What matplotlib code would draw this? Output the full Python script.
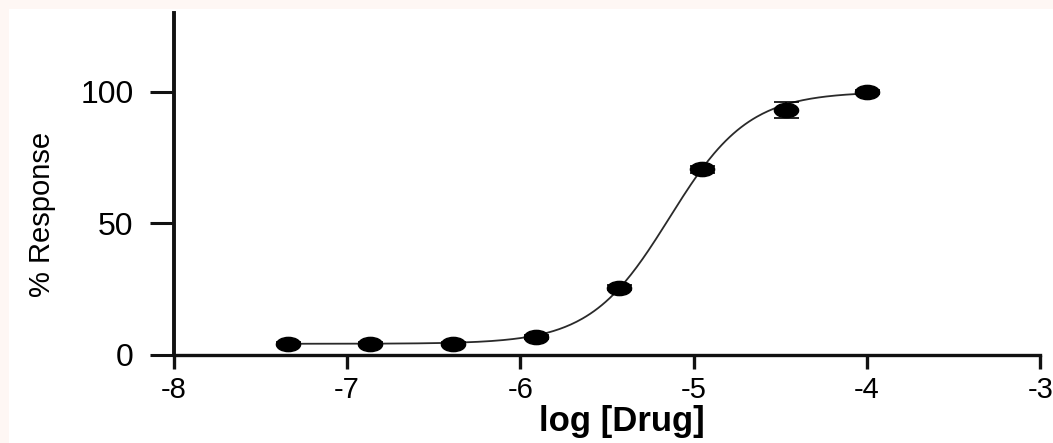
import matplotlib
matplotlib.use('Agg')
import matplotlib.pyplot as plt
import numpy as np
from matplotlib.markers import MarkerStyle
from matplotlib.transforms import Affine2D
from matplotlib.patches import Rectangle

plt.rcParams["font.family"] = "Liberation Sans"

# dose-response points
log_dose = [-7.34, -6.87, -6.39, -5.91, -5.43, -4.95, -4.47, -4.0]
response = [4.2, 4.2, 4.3, 6.8, 25.5, 70.5, 93.0, 99.8]
response_err = [0.5, 0.5, 0.5, 0.8, 1.0, 1.2, 3.0, 0.8]

# four-parameter logistic fit
bottom = 4.2
top = 100.0
log_ec50 = -5.14
hill = 1.9

x_ticks = [-8, -7, -6, -5, -4, -3]
x_ticklabels = ['-8', '-7', '-6', '-5', '-4', '-3']
y_ticks = [0, 50, 100]


def logistic(x):
    return bottom + (top - bottom) / (1 + 10 ** ((log_ec50 - x) * hill))


fig = plt.figure(figsize=(10.53, 4.43), dpi=100)
fig.patch.set_facecolor('#fef7f4')
fig.add_artist(Rectangle((9 / 1053, 0), 1, 1 - 9 / 443, transform=fig.transFigure,
                         facecolor='white', edgecolor='none', zorder=-10))

ax = fig.add_axes([0.165, 0.199, 0.823, 0.772])
ax.set_facecolor('none')

xfit = np.linspace(log_dose[0], log_dose[-1], 300)
ax.plot(xfit, logistic(xfit), color='#2a2a2a', linewidth=1.3, zorder=2)

# points look slightly wide, so stretch the circle marker
dot = MarkerStyle('o', transform=Affine2D().scale(1.7, 1.0))
ax.errorbar(log_dose, response, yerr=response_err, fmt='none', ecolor='black',
            elinewidth=1.2, capsize=9, capthick=1.2, zorder=3)
ax.scatter(log_dose, response, marker=dot, s=105, color='black', zorder=4)

ax.set_xlim(-8, -3)
ax.set_ylim(0, 130)
ax.spines['top'].set_visible(False)
ax.spines['right'].set_visible(False)
ax.spines['left'].set_linewidth(2.8)
ax.spines['bottom'].set_linewidth(2.4)
ax.spines['left'].set_color('#111111')
ax.spines['bottom'].set_color('#111111')
ax.spines['left'].set_bounds(0, 130)

ax.set_xticks(x_ticks)
ax.set_xticklabels(x_ticklabels)
ax.set_yticks(y_ticks)
ax.tick_params(axis='x', length=10, width=2.4, labelsize=21, pad=5, color='#111111')
ax.tick_params(axis='y', length=17, width=2.2, labelsize=23, pad=12, color='#111111')
for lab in ax.get_xticklabels() + ax.get_yticklabels():
    lab.set_clip_on(False)

ax.set_xlabel('log [Drug]', fontsize=25, fontweight='bold', va='baseline')
ax.xaxis.set_label_coords(0.517, -0.222)
ax.set_ylabel('% Response', fontsize=21, va='center')
ax.yaxis.set_label_coords(-0.152, 0.41)

fig.savefig('out.png', dpi=100)
